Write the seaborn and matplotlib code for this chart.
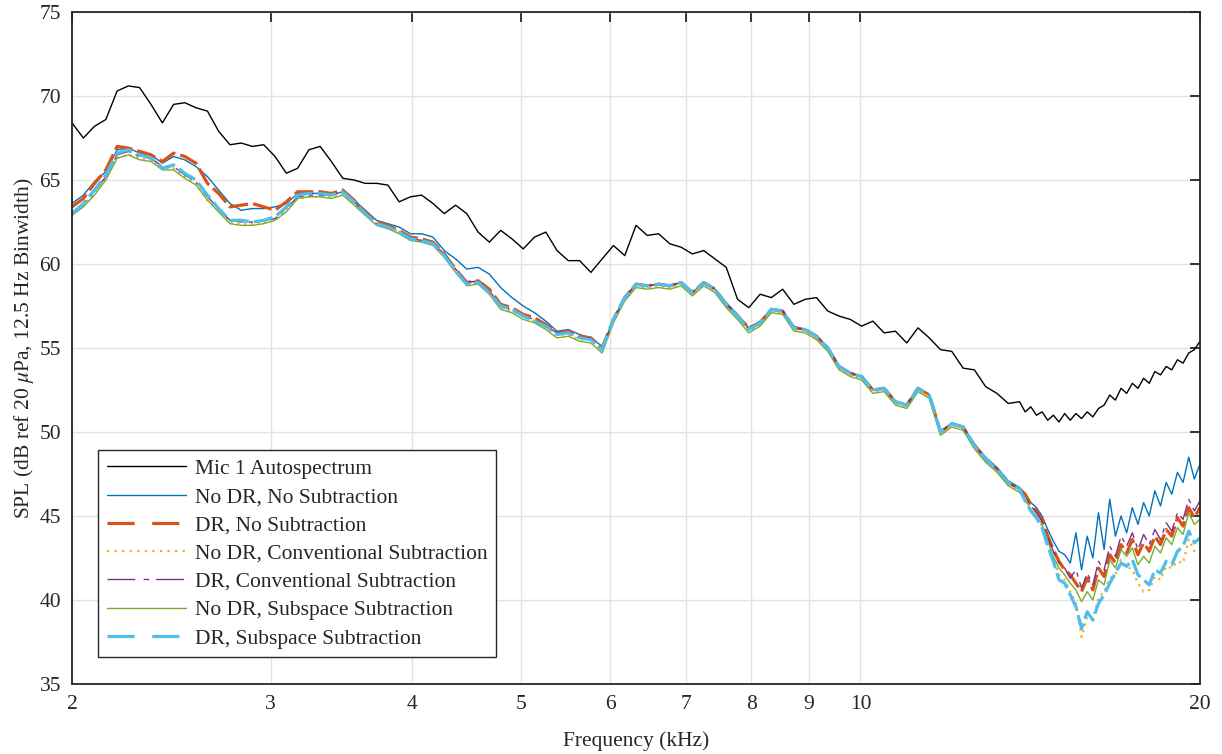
import matplotlib
matplotlib.use("Agg")
import matplotlib.pyplot as plt
from matplotlib.lines import Line2D
from matplotlib.ticker import FixedLocator, FixedFormatter, NullLocator
import seaborn as sns

# ---------------- data (frequency in kHz, SPL in dB) ----------------
FREQ_KHZ = [
    2.000, 2.047, 2.094, 2.143, 2.193, 2.244, 2.296, 2.350, 2.405, 2.461,
    2.518, 2.576, 2.637, 2.698, 2.761, 2.825, 2.891, 2.958, 3.027, 3.098,
    3.170, 3.244, 3.319, 3.396, 3.476, 3.557, 3.639, 3.724, 3.811, 3.900,
    3.991, 4.083, 4.179, 4.276, 4.376, 4.477, 4.582, 4.688, 4.798, 4.909,
    5.024, 5.141, 5.261, 5.383, 5.508, 5.637, 5.768, 5.902, 6.040, 6.181,
    6.325, 6.472, 6.623, 6.777, 6.935, 7.096, 7.262, 7.431, 7.604, 7.781,
    7.962, 8.148, 8.337, 8.532, 8.730, 8.934, 9.142, 9.355, 9.573, 9.796,
    10.024, 10.257, 10.496, 10.741, 10.991, 11.247, 11.509, 11.776, 12.050, 12.331,
    12.619, 12.912, 13.214, 13.521, 13.837,
    13.997, 14.159, 14.323, 14.489, 14.657, 14.826, 14.998, 15.172, 15.347, 15.525,
    15.705, 15.887, 16.071, 16.257, 16.445, 16.635, 16.828, 17.023, 17.220, 17.419,
    17.621, 17.825, 18.031, 18.240, 18.451, 18.665, 18.881, 19.100, 19.321, 19.545,
    19.771, 20.000,
]

MIC1 = [
    68.4, 67.5, 68.2, 68.6, 70.3, 70.6, 70.5, 69.5, 68.4, 69.5,
    69.6, 69.3, 69.1, 67.9, 67.1, 67.2, 67.0, 67.1, 66.4, 65.4,
    65.7, 66.8, 67.0, 66.1, 65.1, 65.0, 64.8, 64.8, 64.7, 63.7,
    64.0, 64.1, 63.6, 63.0, 63.5, 63.0, 61.9, 61.3, 62.0, 61.5,
    60.9, 61.6, 61.9, 60.8, 60.2, 60.2, 59.5, 60.3, 61.1, 60.5,
    62.3, 61.7, 61.8, 61.2, 61.0, 60.6, 60.8, 60.3, 59.8, 57.9,
    57.4, 58.2, 58.0, 58.5, 57.6, 57.9, 58.0, 57.2, 56.9, 56.7,
    56.3, 56.6, 55.9, 56.0, 55.3, 56.2, 55.6, 54.9, 54.8, 53.8,
    53.7, 52.7, 52.3, 51.7, 51.8,
    51.2, 51.5, 51.0, 51.2, 50.7, 51.0, 50.6, 51.1, 50.7, 51.1,
    50.8, 51.2, 50.9, 51.4, 51.6, 52.2, 51.9, 52.6, 52.3, 52.9,
    52.6, 53.2, 52.9, 53.6, 53.4, 53.9, 53.7, 54.3, 54.1, 54.7,
    54.9, 55.4,
]

NODR_NOSUB = [
    63.6, 64.1, 64.9, 65.5, 66.8, 66.9, 66.6, 66.5, 66.0, 66.4,
    66.2, 65.8, 65.2, 64.4, 63.6, 63.2, 63.3, 63.3, 63.4, 63.6,
    64.2, 64.2, 64.2, 64.1, 64.3, 63.8, 63.2, 62.6, 62.4, 62.2,
    61.8, 61.8, 61.6, 60.8, 60.3, 59.7, 59.8, 59.4, 58.6, 58.0,
    57.5, 57.1, 56.6, 56.0, 56.1, 55.8, 55.6, 55.1, 56.6, 58.0,
    58.8, 58.7, 58.8, 58.7, 58.9, 58.3, 58.9, 58.5, 57.7, 57.0,
    56.2, 56.6, 57.3, 57.2, 56.3, 56.1, 55.7, 55.0, 53.9, 53.5,
    53.3, 52.5, 52.6, 51.8, 51.6, 52.6, 52.2, 50.0, 50.5, 50.3,
    49.3, 48.5, 47.9, 47.1, 46.7,
    46.3, 45.8, 45.5, 45.0, 44.2, 43.5, 42.9, 42.7, 42.2, 44.0,
    41.8, 43.8, 42.5, 45.2, 43.0, 46.0, 43.8, 45.0, 44.0, 45.5,
    44.5, 45.8, 45.0, 46.5, 45.6, 47.0, 46.3, 47.6, 47.0, 48.5,
    47.2, 48.1,
]

DR_NOSUB = [
    63.4, 63.9, 64.8, 65.6, 67.0, 66.9, 66.7, 66.5, 66.1, 66.6,
    66.4, 66.0, 64.8, 64.2, 63.4, 63.5, 63.6, 63.4, 63.2, 63.7,
    64.3, 64.3, 64.3, 64.2, 64.4, 63.8, 63.1, 62.5, 62.3, 62.0,
    61.6, 61.5, 61.3, 60.6, 59.7, 58.9, 59.0, 58.5, 57.6, 57.4,
    57.0, 56.8, 56.4, 55.9, 56.0, 55.7, 55.6, 55.0, 56.7, 58.0,
    58.8, 58.7, 58.8, 58.7, 58.9, 58.3, 58.9, 58.5, 57.6, 56.9,
    56.2, 56.5, 57.3, 57.2, 56.2, 56.1, 55.7, 55.0, 53.9, 53.5,
    53.3, 52.5, 52.6, 51.8, 51.6, 52.6, 52.2, 50.0, 50.5, 50.3,
    49.2, 48.4, 47.8, 47.0, 46.6,
    46.3, 45.7, 45.3, 44.8, 43.8, 43.0, 42.3, 41.8, 41.5, 41.0,
    40.5, 41.3, 40.6, 41.9, 41.4, 42.7, 42.2, 43.3, 42.8, 43.6,
    42.7, 43.4, 42.9, 43.8, 43.3, 44.2, 43.8, 44.9, 44.4, 45.5,
    44.9, 45.5,
]

NODR_CONV = [
    62.9, 63.5, 64.2, 65.1, 66.3, 66.5, 66.3, 66.2, 65.7, 65.7,
    65.2, 64.8, 63.8, 63.2, 62.5, 62.4, 62.4, 62.5, 62.6, 63.2,
    63.9, 64.0, 64.0, 64.0, 64.2, 63.6, 63.0, 62.4, 62.2, 61.9,
    61.5, 61.4, 61.2, 60.5, 59.6, 58.8, 58.9, 58.3, 57.4, 57.2,
    56.9, 56.6, 56.2, 55.8, 55.8, 55.5, 55.5, 54.8, 56.6, 57.9,
    58.7, 58.6, 58.7, 58.6, 58.8, 58.2, 58.8, 58.4, 57.5, 56.8,
    56.0, 56.4, 57.2, 57.1, 56.1, 56.0, 55.6, 54.9, 53.8, 53.4,
    53.2, 52.4, 52.5, 51.7, 51.5, 52.5, 52.1, 49.9, 50.4, 50.2,
    49.1, 48.3, 47.7, 46.9, 46.5,
    46.0, 45.3, 44.9, 44.4, 43.3, 42.4, 41.5, 41.2, 40.5, 39.8,
    37.8, 39.0, 38.9, 40.1, 40.5, 41.3, 41.5, 42.4, 42.0, 41.8,
    41.0, 40.5, 40.6, 41.4, 41.2, 42.0, 41.9, 42.3, 42.2, 43.6,
    42.9, 42.8,
]

DR_CONV = [
    63.0, 63.6, 64.3, 65.2, 66.5, 66.7, 66.4, 66.3, 65.8, 65.8,
    65.3, 64.9, 64.0, 63.3, 62.6, 62.5, 62.5, 62.6, 62.7, 63.3,
    64.0, 64.1, 64.1, 64.1, 64.3, 63.7, 63.0, 62.4, 62.2, 61.9,
    61.5, 61.4, 61.2, 60.6, 59.7, 58.9, 59.0, 58.4, 57.5, 57.3,
    56.9, 56.7, 56.3, 55.9, 55.9, 55.6, 55.6, 54.9, 56.7, 58.0,
    58.8, 58.7, 58.8, 58.7, 58.9, 58.3, 58.9, 58.5, 57.6, 56.9,
    56.1, 56.5, 57.3, 57.2, 56.2, 56.1, 55.7, 55.0, 53.9, 53.5,
    53.3, 52.5, 52.6, 51.8, 51.6, 52.6, 52.2, 50.0, 50.5, 50.3,
    49.2, 48.4, 47.8, 47.0, 46.6,
    46.2, 45.6, 45.2, 44.7, 43.7, 42.9, 42.2, 41.9, 41.3, 41.8,
    40.7, 41.6, 40.9, 42.3, 41.8, 43.2, 42.6, 43.8, 43.2, 44.0,
    43.0, 43.9, 43.3, 44.2, 43.6, 44.6, 44.1, 45.2, 44.8, 46.0,
    45.3, 45.9,
]

NODR_SUBSPACE = [
    62.9, 63.4, 64.1, 65.0, 66.3, 66.5, 66.2, 66.1, 65.6, 65.6,
    65.1, 64.7, 63.8, 63.1, 62.4, 62.3, 62.3, 62.4, 62.6, 63.1,
    63.9, 64.0, 64.0, 63.9, 64.1, 63.5, 62.9, 62.3, 62.1, 61.8,
    61.4, 61.3, 61.1, 60.4, 59.5, 58.7, 58.8, 58.2, 57.3, 57.1,
    56.7, 56.5, 56.1, 55.6, 55.7, 55.4, 55.3, 54.7, 56.5, 57.8,
    58.6, 58.5, 58.6, 58.5, 58.7, 58.1, 58.7, 58.3, 57.4, 56.7,
    55.9, 56.3, 57.1, 57.0, 56.0, 55.9, 55.5, 54.8, 53.7, 53.3,
    53.1, 52.3, 52.4, 51.6, 51.4, 52.4, 52.0, 49.8, 50.3, 50.1,
    49.0, 48.2, 47.6, 46.8, 46.4,
    46.0, 45.4, 45.0, 44.5, 43.5, 42.6, 41.9, 41.5, 41.0, 40.6,
    39.9, 40.5, 40.0, 41.2, 40.9, 42.4, 41.9, 43.0, 42.6, 43.1,
    42.1, 42.6, 42.2, 43.2, 42.8, 43.7, 43.3, 44.3, 43.9, 45.2,
    44.5, 44.8,
]

DR_SUBSPACE = [
    63.0, 63.6, 64.4, 65.3, 66.6, 66.8, 66.5, 66.3, 65.7, 65.9,
    65.4, 65.0, 64.1, 63.3, 62.6, 62.6, 62.5, 62.6, 62.8, 63.4,
    64.1, 64.2, 64.2, 64.1, 64.3, 63.7, 63.0, 62.4, 62.2, 61.9,
    61.5, 61.4, 61.2, 60.5, 59.6, 58.8, 58.9, 58.3, 57.5, 57.3,
    56.9, 56.6, 56.3, 55.8, 55.9, 55.6, 55.5, 54.9, 56.7, 58.0,
    58.8, 58.7, 58.8, 58.7, 58.9, 58.3, 58.9, 58.5, 57.6, 56.9,
    56.1, 56.5, 57.3, 57.2, 56.2, 56.1, 55.7, 55.0, 53.9, 53.5,
    53.3, 52.5, 52.6, 51.8, 51.6, 52.6, 52.2, 50.0, 50.5, 50.3,
    49.2, 48.4, 47.8, 47.0, 46.6,
    45.9, 45.3, 44.9, 44.3, 43.2, 42.3, 41.2, 41.0, 40.3, 39.6,
    38.3, 39.3, 38.8, 39.8, 40.3, 41.0, 41.6, 42.2, 42.0, 42.4,
    41.5, 41.2, 40.9, 41.8, 41.6, 42.3, 42.1, 42.9, 43.2, 44.1,
    43.4, 43.7,
]

LABELS = [
    "Mic 1 Autospectrum",
    "No DR, No Subtraction",
    "DR, No Subtraction",
    "No DR, Conventional Subtraction",
    "DR, Conventional Subtraction",
    "No DR, Subspace Subtraction",
    "DR, Subspace Subtraction",
]
X_TICKS = [2, 3, 4, 5, 6, 7, 8, 9, 10, 20]
Y_TICKS = [35, 40, 45, 50, 55, 60, 65, 70, 75]

# ---------------- styling ----------------
sns.set_theme(style="white")
plt.rcParams["font.family"] = ["Liberation Serif", "DejaVu Serif"]
plt.rcParams["mathtext.fontset"] = "stix"
FS = 15.5
TXT = "#262626"

fig = plt.figure(figsize=(12.22, 7.54), dpi=100)
ax = fig.add_axes([72 / 1222, 70 / 754, 1128 / 1222, 672 / 754])

series = [MIC1, NODR_NOSUB, DR_NOSUB, NODR_CONV, DR_CONV, NODR_SUBSPACE, DR_SUBSPACE]
# (color, linewidth, dashes on data, dashes in legend)
styles = [
    ("black", 1.0, None, None),
    ("#0072BD", 1.0, None, None),
    ("#D95319", 2.3, (6.0, 1.6), (8.5, 5.5)),
    ("#EDB120", 1.6, (1.0, 2.0), (1.0, 2.4)),
    ("#7E2F8E", 1.0, (14, 4, 3, 4), (20, 6, 4, 5)),
    ("#77AC30", 1.0, None, None),
    ("#4DBEEE", 2.3, (6.0, 1.6), (8.5, 5.5)),
]

handles = []
for vals, lab, (col, lw, dsh, ldsh) in zip(series, LABELS, styles):
    sns.lineplot(x=FREQ_KHZ, y=vals, ax=ax, color=col, linewidth=lw,
                 estimator=None, legend=False)
    ln = ax.get_lines()[-1]
    if dsh is not None:
        ln.set_dashes(dsh)
    h = Line2D([], [], color=col, linewidth=lw)
    if ldsh is not None:
        h.set_dashes(ldsh)
    handles.append(h)

ax.set_xscale("log")
ax.set_xlim(2, 20)
ax.set_ylim(35, 75)
ax.xaxis.set_major_locator(FixedLocator(X_TICKS))
ax.xaxis.set_major_formatter(FixedFormatter([str(t) for t in X_TICKS]))
ax.xaxis.set_minor_locator(NullLocator())
ax.set_yticks(Y_TICKS)

ax.grid(True, color="#e3e3e3", linewidth=1.0)
ax.set_axisbelow(True)
for sp in ax.spines.values():
    sp.set_color(TXT)
    sp.set_linewidth(1.3)
ax.tick_params(axis="both", which="major", direction="in", length=7, width=1.3,
               top=True, right=True, labelsize=FS, colors=TXT,
               labelcolor=TXT, pad=8)

ax.set_xlabel("Frequency (kHz)", fontsize=FS, color=TXT, labelpad=12)
ax.set_ylabel(r"SPL (dB ref 20 $\mu$Pa, 12.5 Hz Binwidth)", fontsize=FS,
              color=TXT, labelpad=2)

leg = ax.legend(handles, LABELS, loc="lower left", bbox_to_anchor=(0.023, 0.040),
                borderaxespad=0, fontsize=FS, frameon=True, fancybox=False,
                framealpha=1, handlelength=3.7, handletextpad=0.4,
                labelspacing=0.38, borderpad=0.4)
leg.get_frame().set_edgecolor(TXT)
leg.get_frame().set_linewidth(1.0)
for t in leg.get_texts():
    t.set_color(TXT)

fig.savefig("out.png", dpi=100)
